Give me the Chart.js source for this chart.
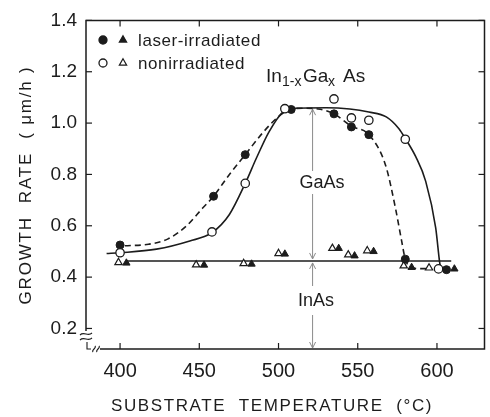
<!DOCTYPE html>
<html>
<head>
<meta charset="utf-8">
<script src="https://cdn.jsdelivr.net/npm/chart.js@4.4.0/dist/chart.umd.min.js"></script>
<style>
html,body{margin:0;padding:0;background:#fff;}
#wrap{width:490px;height:417px;position:relative;}
</style>
</head>
<body>
<div id="wrap"><canvas id="c" width="490" height="417"></canvas></div>
<script>
// ---- data ----
const xTicks = [400, 450, 500, 550, 600];
const yTicks = [0.2, 0.4, 0.6, 0.8, 1.0, 1.2, 1.4];

// circles = In(1-x)Ga(x)As growth rate
const laserCircleT = [400, 459, 479, 508, 535, 546, 557, 580, 606];
const laserCircleR = [0.525, 0.715, 0.877, 1.053, 1.036, 0.985, 0.955, 0.470, 0.429];
const nonCircleT   = [400, 458, 479, 504, 535, 546, 557, 580, 601];
const nonCircleR   = [0.495, 0.576, 0.765, 1.056, 1.094, 1.020, 1.011, 0.937, 0.432];

// triangles = InAs growth rate
const laserTriT = [404, 453, 483, 504, 538, 548, 560, 584, 611];
const laserTriR = [0.455, 0.447, 0.451, 0.490, 0.512, 0.483, 0.500, 0.438, 0.432];
const nonTriT   = [399, 448, 478, 500, 534, 544, 556, 579, 595];
const nonTriR   = [0.457, 0.448, 0.453, 0.492, 0.512, 0.487, 0.503, 0.444, 0.436];

// guide curves
const solidFitT = [391.5, 400, 423, 444, 458, 469, 479, 486, 494, 503, 510, 530, 545, 557, 568, 576, 580.3, 586.6, 592.9, 599.2, 601.7, 602.5];
const solidFitR = [0.492, 0.495, 0.509, 0.541, 0.573, 0.644, 0.765, 0.863, 0.966, 1.045, 1.058, 1.060, 1.055, 1.043, 1.024, 0.978, 0.937, 0.869, 0.773, 0.592, 0.457, 0.430];
const dashFitT  = [403, 418, 430, 442, 452, 459, 469, 479, 490, 499, 506, 515, 525, 535, 546, 557, 567.5, 573.8, 577.7, 580, 583, 590, 596];
const dashFitR  = [0.522, 0.528, 0.548, 0.600, 0.668, 0.715, 0.800, 0.877, 0.962, 1.020, 1.050, 1.058, 1.055, 1.036, 0.988, 0.955, 0.837, 0.669, 0.541, 0.470, 0.440, 0.433, 0.433];
const inasLineT = [404, 609];
const inasLineR = [0.463, 0.463];

// arrow marking GaAs / InAs contributions
const arrowT = 521.5;
const arrowTopR = 1.058;
const arrowMidR = 0.463;

const INK = '#1c1c1c';
const pts = (xs, ys) => xs.map((v, i) => ({x: v, y: ys[i]}));

const deco = {
  id: 'deco',
  beforeDatasetsDraw(chart) {
    const {ctx, chartArea: {left, right, top, bottom}, scales: {x, y}} = chart;
    const seg = (a, b, c, d) => { ctx.beginPath(); ctx.moveTo(a, b); ctx.lineTo(c, d); ctx.stroke(); };
    ctx.save();
    ctx.strokeStyle = INK;
    ctx.lineWidth = 1.5;
    ctx.beginPath();
    ctx.moveTo(left, bottom - 18);
    ctx.lineTo(left, top);
    ctx.lineTo(right, top);
    ctx.lineTo(right, bottom);
    ctx.lineTo(left + 14, bottom);
    ctx.stroke();
    // ticks inward
    ctx.lineWidth = 1.2;
    xTicks.forEach(v => { const p = x.getPixelForValue(v); seg(p, bottom, p, bottom - 6); seg(p, top, p, top + 6); });
    yTicks.forEach(v => { const p = y.getPixelForValue(v); seg(left, p, left + 6, p); seg(right, p, right - 6, p); });
    // axis break marks
    ctx.lineWidth = 1.1;
    [bottom - 15, bottom - 10].forEach(yy => {
      ctx.beginPath();
      ctx.moveTo(left - 6, yy + 1);
      ctx.bezierCurveTo(left - 2, yy - 3, left + 2, yy + 3, left + 6, yy - 1);
      ctx.stroke();
    });
    ctx.beginPath();
    ctx.moveTo(left + 1, bottom - 7); ctx.lineTo(left + 1, bottom); ctx.lineTo(left + 5, bottom);
    ctx.stroke();
    [left + 8, left + 12].forEach(xx => {
      ctx.beginPath();
      ctx.moveTo(xx - 1, bottom + 3);
      ctx.bezierCurveTo(xx - 3, bottom + 1, xx + 3, bottom - 1, xx + 1, bottom - 3);
      ctx.stroke();
    });
    // arrows
    ctx.strokeStyle = '#8a8a8a';
    ctx.lineWidth = 1;
    const ax = x.getPixelForValue(arrowT);
    const yT = y.getPixelForValue(arrowTopR);
    const yM = y.getPixelForValue(arrowMidR);
    const head = (yy, dir) => { ctx.beginPath(); ctx.moveTo(ax - 3, yy - 6 * dir); ctx.lineTo(ax, yy); ctx.lineTo(ax + 3, yy - 6 * dir); ctx.stroke(); };
    seg(ax, yT + 1, ax, 171); seg(ax, 194, ax, yM - 2);
    head(yT + 1, -1); head(yM - 2, 1);
    seg(ax, yM + 2, ax, 286); seg(ax, 315, ax, bottom - 1);
    head(yM + 2, -1); head(bottom - 1, 1);
    ctx.restore();
  },
  afterDraw(chart) {
    const {ctx} = chart;
    ctx.save();
    ctx.fillStyle = INK;
    ctx.strokeStyle = INK;
    ctx.textBaseline = 'alphabetic';
    // legend
    const circ = (cx, cy, fill) => { ctx.beginPath(); ctx.arc(cx, cy, 4, 0, Math.PI * 2); if (fill) { ctx.fill(); } else { ctx.fillStyle = '#fff'; ctx.fill(); ctx.fillStyle = INK; } ctx.lineWidth = 1.3; ctx.stroke(); };
    const tri = (cx, cy, fill) => { const r = 4.2; ctx.beginPath(); ctx.moveTo(cx, cy - r); ctx.lineTo(cx + r * 0.866, cy + r * 0.5); ctx.lineTo(cx - r * 0.866, cy + r * 0.5); ctx.closePath(); if (fill) ctx.fill(); ctx.lineWidth = 1.2; ctx.stroke(); };
    circ(103, 40, true); tri(123, 40, true);
    circ(103, 63, false); tri(123, 63, false);
    ctx.font = '17px "Liberation Sans", Arial, sans-serif';
    ctx.textBaseline = 'middle';
    ctx.letterSpacing = '0.6px';
    ctx.fillText('laser-irradiated', 138, 41);
    ctx.fillText('nonirradiated', 138, 64);
    ctx.letterSpacing = '0px';
    // compound label
    ctx.textBaseline = 'alphabetic';
    ctx.font = '19px "Liberation Sans", Arial, sans-serif';
    ctx.fillText('In', 266, 82);
    ctx.font = '14px "Liberation Sans", Arial, sans-serif';
    ctx.fillText('1-x', 282, 86);
    ctx.font = '19px "Liberation Sans", Arial, sans-serif';
    ctx.fillText('Ga', 303, 82);
    ctx.font = '14px "Liberation Sans", Arial, sans-serif';
    ctx.fillText('x', 328, 86);
    ctx.font = '19px "Liberation Sans", Arial, sans-serif';
    ctx.fillText('As', 343, 82);
    // region labels
    ctx.textAlign = 'center';
    ctx.textBaseline = 'middle';
    ctx.font = '18px "Liberation Sans", Arial, sans-serif';
    ctx.fillText('GaAs', 322, 183);
    ctx.fillText('InAs', 316, 301);
    // axis titles
    ctx.font = '17px "Liberation Sans", Arial, sans-serif';
    ctx.letterSpacing = '1.6px';
    ctx.fillText('SUBSTRATE  TEMPERATURE  (°C)', 272, 406);
    ctx.translate(26, 185);
    ctx.rotate(-Math.PI / 2);
    ctx.letterSpacing = '1.8px';
    ctx.fillText('GROWTH  RATE  ( μm/h )', 0, 0);
    ctx.restore();
  }
};

const lineDs = (data, dash, w) => ({
  data, showLine: true, pointRadius: 0, borderColor: INK, borderWidth: w,
  borderDash: dash, cubicInterpolationMode: 'monotone', fill: false, order: 10
});

new Chart(document.getElementById('c'), {
  type: 'scatter',
  data: {
    datasets: [
      lineDs(pts(solidFitT, solidFitR), [], 1.6),
      lineDs(pts(dashFitT, dashFitR), [6, 4], 1.6),
      Object.assign(lineDs(pts(inasLineT, inasLineR), [], 1.5), {cubicInterpolationMode: 'default', tension: 0}),
      {data: pts(nonTriT, nonTriR), pointStyle: 'triangle', pointRadius: 4.2, backgroundColor: '#fff', borderColor: INK, borderWidth: 1.2, order: 2},
      {data: pts(laserTriT, laserTriR), pointStyle: 'triangle', pointRadius: 4.2, backgroundColor: INK, borderColor: INK, borderWidth: 1, order: 2},
      {data: pts(nonCircleT, nonCircleR), pointStyle: 'circle', pointRadius: 4.2, backgroundColor: '#fff', borderColor: INK, borderWidth: 1.3, order: 1},
      {data: pts(laserCircleT, laserCircleR), pointStyle: 'circle', pointRadius: 4, backgroundColor: INK, borderColor: INK, borderWidth: 1, order: 1}
    ]
  },
  options: {
    responsive: false,
    animation: false,
    events: [],
    layout: {padding: {top: 18, right: 5, left: 0, bottom: 0}},
    plugins: {legend: {display: false}, tooltip: {enabled: false}, title: {display: false}},
    scales: {
      x: {
        type: 'linear', min: 378.5, max: 630,
        grid: {display: false, drawTicks: false}, border: {display: false},
        afterBuildTicks: s => { s.ticks = xTicks.map(v => ({value: v})); },
        afterFit: s => { s.height = 68; },
        ticks: {padding: 10, color: INK, font: {family: '"Liberation Sans", Arial, sans-serif', size: 20}, callback: v => String(v)}
      },
      y: {
        type: 'linear', min: 0.12, max: 1.4,
        grid: {display: false, drawTicks: false}, border: {display: false},
        afterBuildTicks: s => { s.ticks = yTicks.map(v => ({value: v})); },
        afterFit: s => { s.width = 86; },
        ticks: {padding: 9, color: INK, font: {family: '"Liberation Sans", Arial, sans-serif', size: 19}, callback: v => Number(v).toFixed(1)}
      }
    }
  },
  plugins: [deco]
});
</script>
</body>
</html>
